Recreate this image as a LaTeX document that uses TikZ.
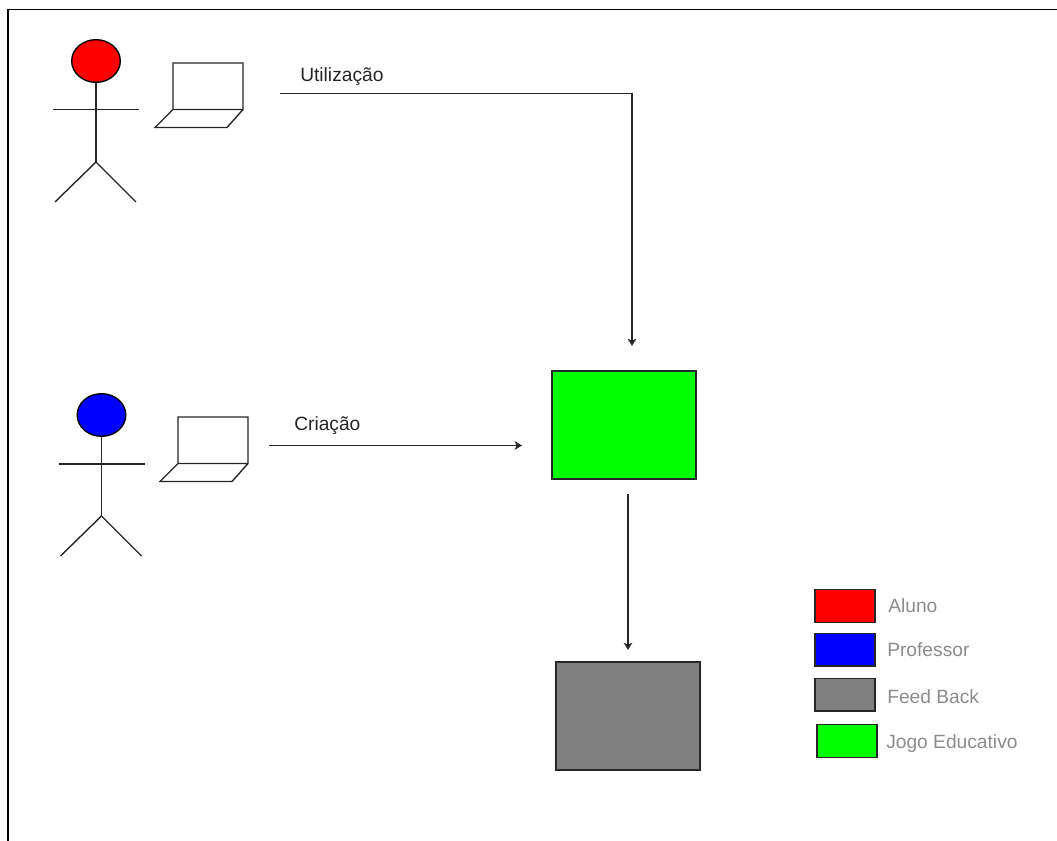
\documentclass[tikz,border=0pt]{standalone}
\usepackage{fontspec}
\setmainfont{Liberation Sans}
\usetikzlibrary{arrows.meta,shapes.geometric}
\definecolor{legtext}{gray}{0.55}
\definecolor{boxgray}{gray}{0.5}
\tikzset{
  x=0.75pt,y=-0.75pt,
  frameline/.style={draw=black,line width=1.2pt},
  ink/.style={draw=black!85,line width=1.05pt},
  arrowline/.style={ink,-{Stealth[length=5.5pt,width=6.5pt,inset=1.5pt]}},
  bigbox/.style={draw=black!85,line width=1pt,minimum width=108pt,minimum height=81pt,inner sep=0pt,rectangle},
  legbox/.style={draw=black!85,line width=1pt,minimum width=45pt,minimum height=24.5pt,inner sep=0pt,rectangle},
  legtxt/.style={text=legtext,font=\fontsize{14.4}{16}\selectfont,anchor=west,inner sep=0pt},
  lbl/.style={text=black!85,font=\fontsize{14.4}{16}\selectfont,anchor=west,inner sep=0pt},
  headshape/.style={draw=black,line width=1pt,ellipse,inner sep=0pt,minimum width=36.5pt,minimum height=32pt},
}
\begin{document}
\begin{tikzpicture}
\useasboundingbox (0,0) rectangle (1057,841);
\fill[white] (0,0) rectangle (1057,841);
\draw[frameline] (8,841) -- (8,9.5) -- (1057,9.5);
% student figure
\node[headshape,fill=red] (headA) at (96,61) {};
\coordinate (hipA) at (96,162);
\coordinate (armLA) at (53,109.5);
\coordinate (armRA) at (139,109.5);
\coordinate (legLA) at (55,202);
\coordinate (legRA) at (136,202);
\draw[ink] (headA.south) -- (hipA);
\draw[ink] (armLA) -- (armRA);
\draw[ink] (legLA) -- (hipA) -- (legRA);
\draw[ink,line join=miter] (173,109.5) -- (173,63) -- (243,63) -- (243,109.5) -- (173,109.5) -- (155,127.5) -- (227,127.5) -- (243,109.5);
% teacher figure
\node[headshape,fill=blue] (headB) at (101.5,415) {};
\coordinate (hipB) at (101.5,516);
\coordinate (armLB) at (58.5,464);
\coordinate (armRB) at (144.5,464);
\coordinate (legLB) at (60.5,556);
\coordinate (legRB) at (141.5,556);
\draw[ink] (headB.south) -- (hipB);
\draw[ink] (armLB) -- (armRB);
\draw[ink] (legLB) -- (hipB) -- (legRB);
\draw[ink,line join=miter] (178,463.5) -- (178,417) -- (248,417) -- (248,463.5) -- (178,463.5) -- (160,481.5) -- (232,481.5) -- (248,463.5);
% main boxes
\node[bigbox,fill=green] (game) at (624,425) {};
\node[bigbox,fill=boxgray] (feedback) at (628,716) {};
% connectors
\coordinate (useStart) at (280,93.5);
\coordinate (useBend) at (632,93.5);
\coordinate (useEnd) at (632,346);
\coordinate (makeStart) at (269,445.5);
\coordinate (makeEnd) at (522,445.5);
\coordinate (fbStart) at (628,494);
\coordinate (fbEnd) at (628,650);
\draw[arrowline] (useStart) -- (useBend) -- (useEnd);
\draw[arrowline] (makeStart) -- (makeEnd);
\draw[arrowline] (fbStart) -- (fbEnd);
\node[lbl] (useLabel) at (300,76.5) {Utilização};
\node[lbl] (makeLabel) at (294,425.5) {Criação};
% legend
\node[legbox,fill=red] (legA) at (845,606) {};
\node[legbox,fill=blue] (legB) at (845,649.5) {};
\node[legbox,fill=boxgray] (legC) at (845,694.5) {};
\node[legbox,fill=green] (legD) at (847,741) {};
\node[legtxt] (txtA) at (888,606) {Aluno};
\node[legtxt] (txtB) at (887,650) {Professor};
\node[legtxt] (txtC) at (887,697) {Feed Back};
\node[legtxt] (txtD) at (886,743.5) {Jogo Educativo};
\end{tikzpicture}
\end{document}
